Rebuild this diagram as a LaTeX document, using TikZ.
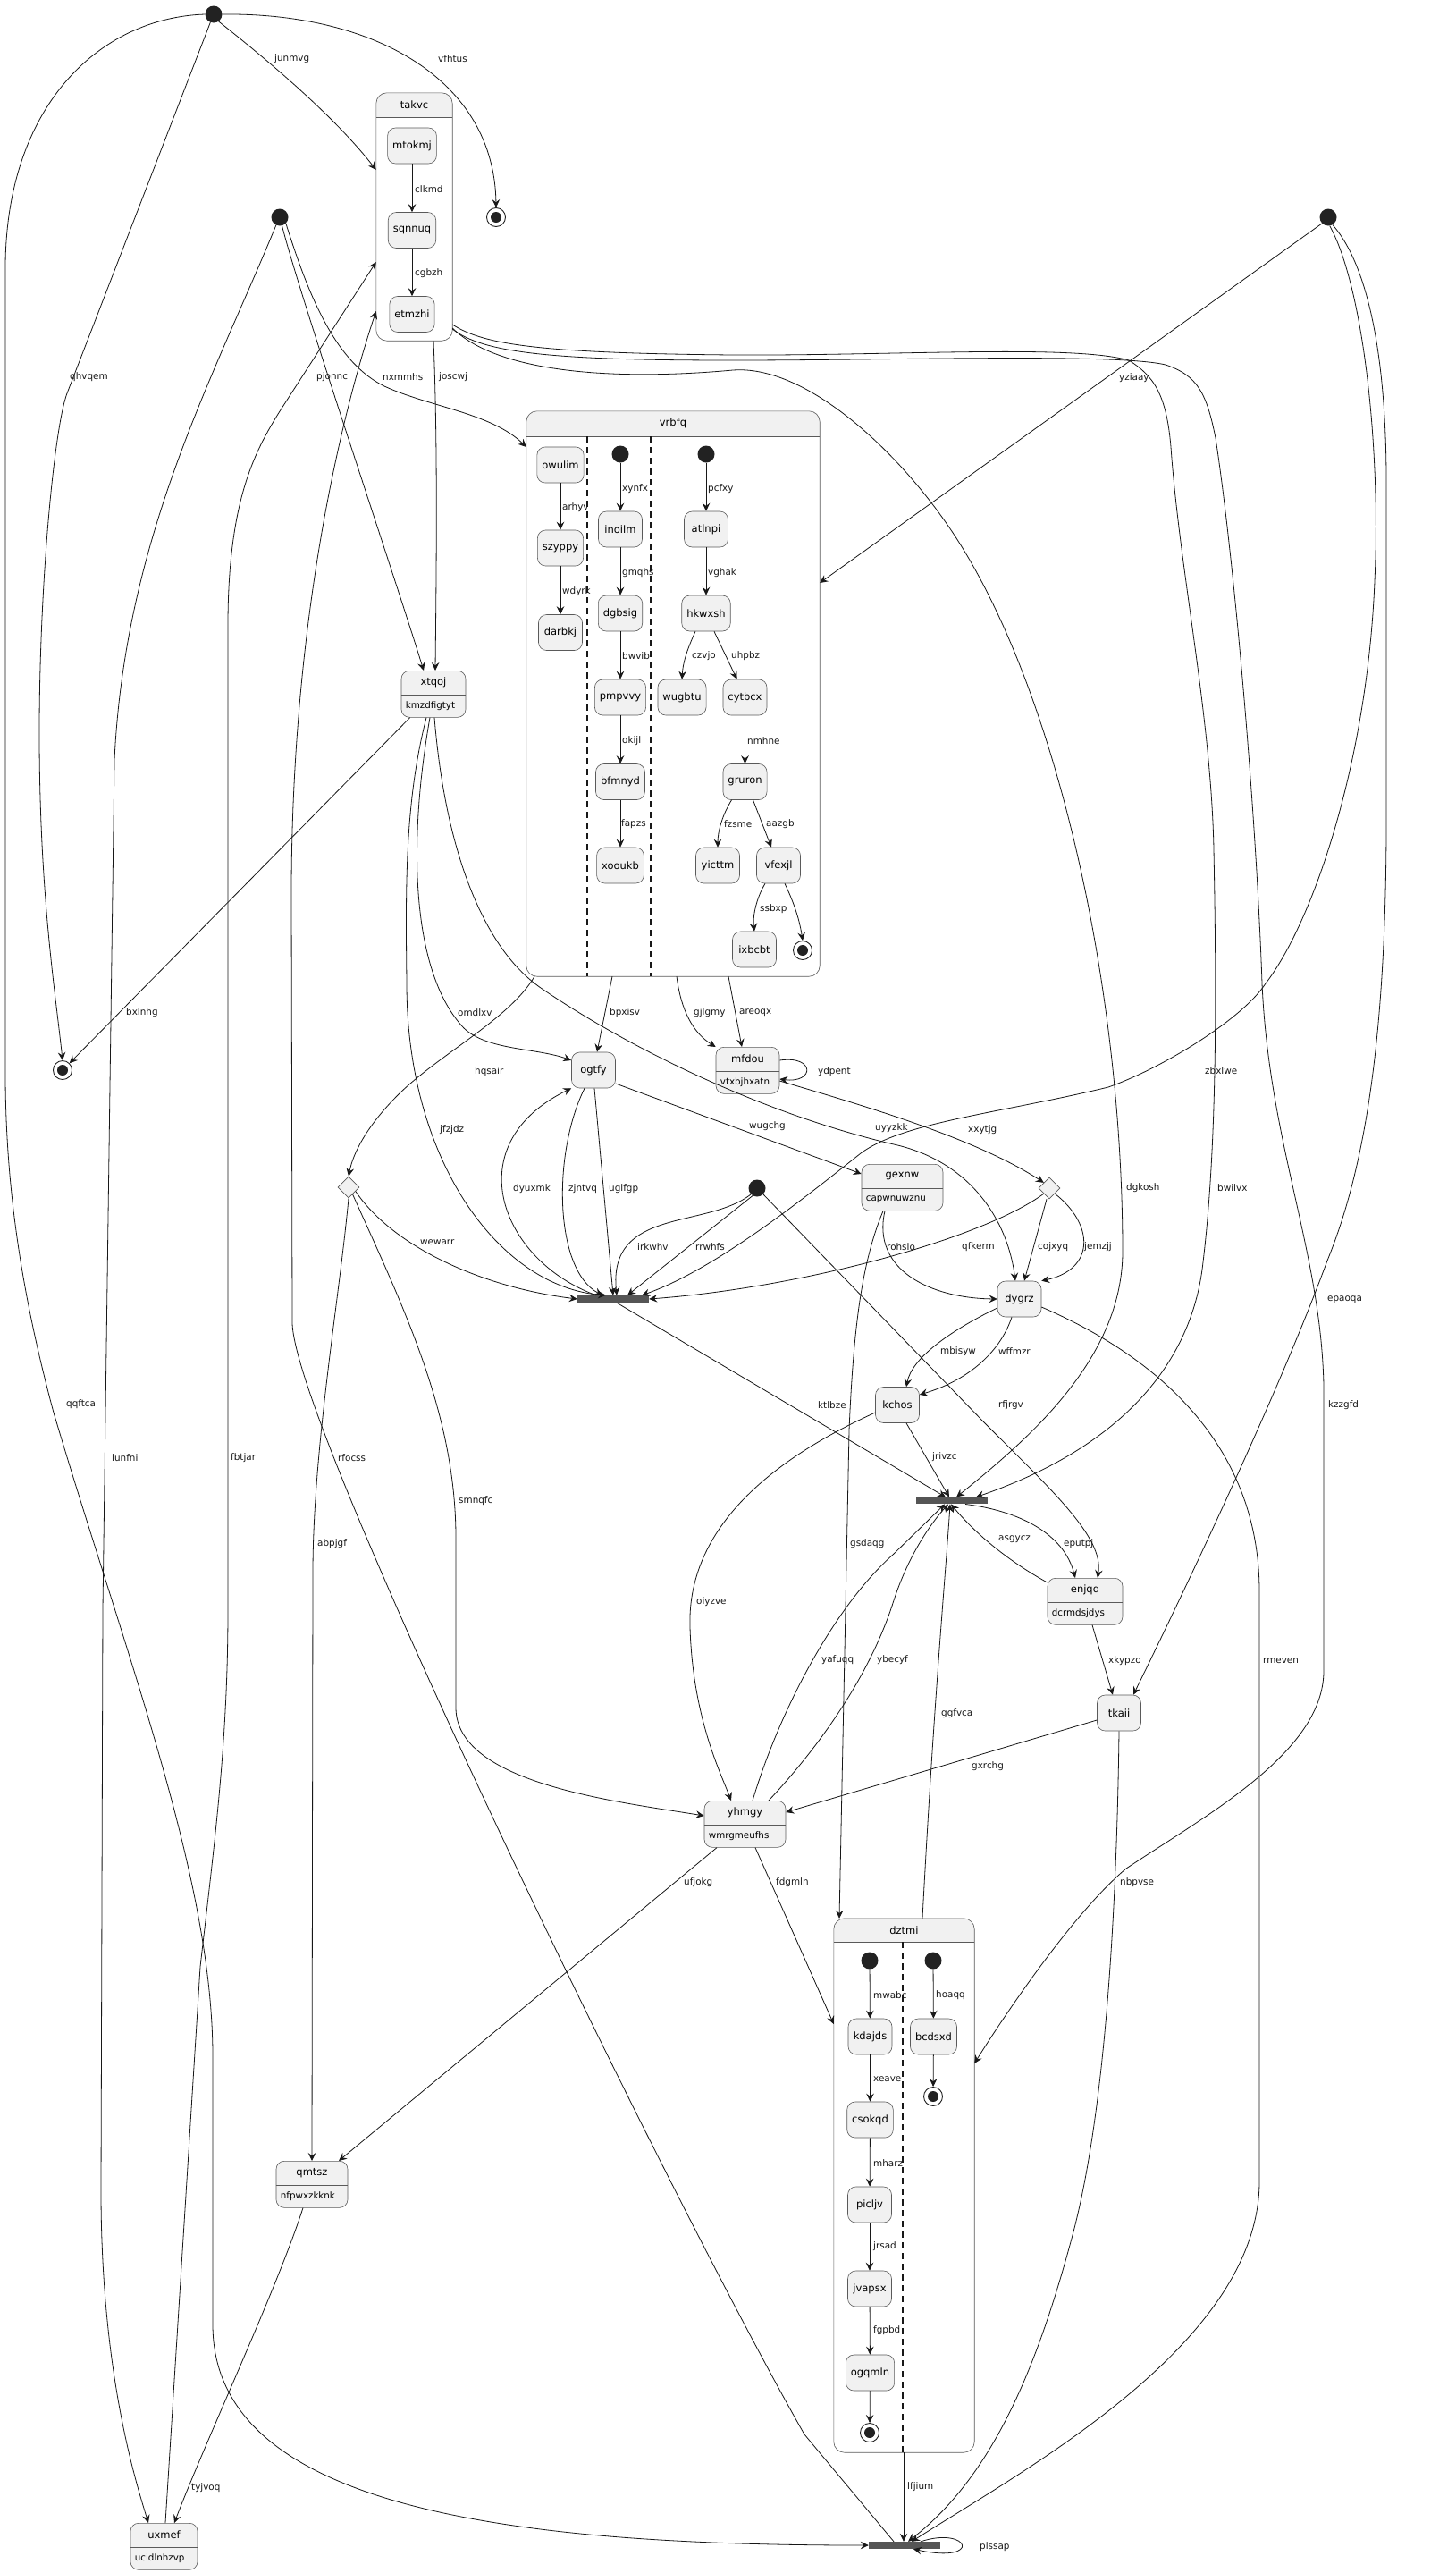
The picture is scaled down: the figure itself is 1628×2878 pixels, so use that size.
\documentclass[tikz,border=0pt]{standalone}
\usepackage{fontspec}
\setmainfont{DejaVu Sans}
\usetikzlibrary{arrows.meta,shapes.geometric}
\definecolor{linec}{HTML}{181818}
\definecolor{bordc}{HTML}{5A5A5A}
\definecolor{statefill}{HTML}{F1F1F1}
\definecolor{barc}{HTML}{555555}
\definecolor{dotc}{HTML}{222222}
\newcommand\namefont{\fontsize{11.5}{13}\selectfont}
\newcommand\lblfont{\fontsize{10.4}{12}\selectfont}
\newcommand\attrfont{\fontsize{10.3}{12}\selectfont}
% state with a name compartment and an attribute compartment
\newcommand\attrstate[6]{%
  \node[abox, minimum width=#4pt, anchor=north] (#1) at (#2,#3) {};
  \draw[bordc, line width=.6pt] ([yshift=-27pt]#1.north west) -- ([yshift=-27pt]#1.north east);
  \node[font=\namefont, inner sep=0pt] (#1-t) at ([yshift=-13.5pt]#1.north) {#5};
  \node[font=\attrfont, inner sep=0pt, anchor=west] (#1-a) at ([xshift=5pt,yshift=-39.5pt]#1.north west) {#6};
}
% composite state: name, cx, cy, width, height, header height, title
\newcommand\compstate[7]{%
  \node[inner sep=0pt, minimum width=#4pt, minimum height=#5pt] (#1) at (#2,#3) {};
  \begin{scope}
    \clip[rounded corners=12pt] (#1.north west) rectangle (#1.south east);
    \fill[statefill] (#1.north west) rectangle ([yshift=-#6pt]#1.north east);
  \end{scope}
  \draw[bordc, line width=.6pt, rounded corners=12pt] (#1.north west) rectangle (#1.south east);
  \draw[bordc, line width=.6pt] ([yshift=-#6pt]#1.north west) -- ([yshift=-#6pt]#1.north east);
  \node[font=\namefont, inner sep=0pt] (#1-t) at ([yshift=-#6pt/2]#1.north) {#7};
}
\begin{document}
\begin{tikzpicture}[x=1pt,y=-1pt,
  st/.style={draw=bordc, fill=statefill, line width=.6pt, rounded corners=9pt,
    minimum height=40pt, minimum width=49pt, inner xsep=5.5pt, font=\namefont},
  abox/.style={draw=bordc, fill=statefill, line width=.6pt, rounded corners=9pt,
    minimum height=52pt, inner sep=0pt},
  init/.style={circle, fill=dotc, minimum size=19pt, inner sep=0pt},
  fin/.style={circle, draw=dotc, line width=.9pt, fill=white, minimum size=21pt, inner sep=0pt,
    path picture={\fill[dotc] (path picture bounding box.center) circle (6pt);}},
  dia/.style={diamond, draw=bordc, fill=statefill, line width=.6pt,
    minimum width=24pt, minimum height=24pt, inner sep=0pt},
  bar/.style={fill=barc, minimum width=80pt, minimum height=8pt, inner sep=0pt},
  tr/.style={draw=linec, line width=.8pt, -{Stealth[length=9pt,width=8.5pt,inset=3.2pt]}},
  ln/.style={draw=linec, line width=.8pt},
  sep/.style={draw=linec, line width=1.1pt, dash pattern=on 7pt off 5pt},
  lbl/.style={font=\lblfont, anchor=west, inner sep=0pt, text=linec}]

\useasboundingbox (0,0) rectangle (1628,2878);
\fill[white] (0,0) rectangle (1628,2878);

% ---------- composite states
\compstate{takvc}{463.5}{242.5}{85}{277}{27}{takvc}
\node[st] (mtokmj) at (461,163) {mtokmj};
\node[st] (sqnnuq) at (461,257.5) {sqnnuq};
\node[st] (etmzhi) at (461,351.5) {etmzhi};

\compstate{vrbfq}{753}{776}{328}{632}{28}{vrbfq}
\draw[sep] (657,488) -- (657,1092);
\draw[sep] (728,488) -- (728,1092);
\node[st] (owulim) at (627,520) {owulim};
\node[st] (szyppy) at (627,613) {szyppy};
\node[st] (darbkj) at (627,707.5) {darbkj};
\node[init] (V1) at (694,508) {};
\node[st] (inoilm) at (694,592) {inoilm};
\node[st] (dgbsig) at (694,686) {dgbsig};
\node[st] (pmpvvy) at (694,780) {pmpvvy};
\node[st] (bfmnyd) at (694,874.5) {bfmnyd};
\node[st] (xooukb) at (694,968) {xooukb};
\node[init] (V2) at (790,508) {};
\node[st] (atlnpi) at (790,592) {atlnpi};
\node[st] (hkwxsh) at (790,686) {hkwxsh};
\node[st] (wugbtu) at (763,780) {wugbtu};
\node[st] (cytbcx) at (833.5,780) {cytbcx};
\node[st] (gruron) at (833.5,874.5) {gruron};
\node[st] (yicttm) at (803,968) {yicttm};
\node[st] (vfexjl) at (871,968) {vfexjl};
\node[st] (ixbcbt) at (844,1062) {ixbcbt};
\node[fin] (VF) at (898,1063) {};

\compstate{dztmi}{1011.5}{2444.5}{157}{597}{26}{dztmi}
\draw[sep] (1010,2172) -- (1010,2743);
\node[init] (ZA) at (973,2193) {};
\node[st] (kdajds) at (973.5,2278) {kdajds};
\node[st] (csokqd) at (973.5,2371) {csokqd};
\node[st] (picljv) at (973,2466) {picljv};
\node[st] (jvapsx) at (973,2560) {jvapsx};
\node[st] (ogqmln) at (973.5,2654) {ogqmln};
\node[fin] (ZF) at (973,2721) {};
\node[init] (ZB) at (1044,2193) {};
\node[st] (bcdsxd) at (1044.5,2278) {bcdsxd};
\node[fin] (ZG) at (1044,2345) {};

% ---------- top-level states
\node[init] (S1) at (239,16) {};
\node[fin] (F1) at (555,243) {};
\node[init] (S2) at (313,243) {};
\node[init] (S3) at (1486,243) {};
\node[init] (S4) at (847,1329) {};
\node[fin] (F2) at (70,1197) {};
\node[dia] (D1) at (390,1328) {};
\node[dia] (D2) at (1174,1329) {};
\node[bar] (B1) at (686,1453) {};
\node[bar, minimum height=7.5pt] (B2) at (1065,1678.5) {};
\node[bar] (B3) at (1012,2847) {};

\attrstate{xtqoj}{485}{750}{72}{xtqoj}{kmzdfigtyt}
\attrstate{mfdou}{836.5}{1171}{71}{mfdou}{vtxbjhxatn}
\attrstate{gexnw}{1009.5}{1302}{91}{gexnw}{capwnuwznu}
\attrstate{enjqq}{1214}{1765}{84}{enjqq}{dcrmdsjdys}
\attrstate{yhmgy}{833.5}{2014}{91}{yhmgy}{wmrgmeufhs}
\attrstate{qmtsz}{349}{2417}{80}{qmtsz}{nfpwxzkknk}
\attrstate{uxmef}{183.5}{2822}{75}{uxmef}{ucidlnhzvp}

\node[st] (ogtfy) at (664,1197) {ogtfy};
\node[st] (dygrz) at (1140.5,1453) {dygrz};
\node[st] (kchos) at (1004,1571.5) {kchos};
\node[st] (tkaii) at (1252,1916) {tkaii};

% ---------- transitions inside takvc
\draw[tr] (mtokmj) -- (sqnnuq);
\draw[tr] (sqnnuq) -- (etmzhi);

% ---------- transitions inside vrbfq
\draw[tr] (owulim) -- (szyppy);
\draw[tr] (szyppy) -- (darbkj);
\draw[tr] (V1) -- (inoilm);
\draw[tr] (inoilm) -- (dgbsig);
\draw[tr] (dgbsig) -- (pmpvvy);
\draw[tr] (pmpvvy) -- (bfmnyd);
\draw[tr] (bfmnyd) -- (xooukb);
\draw[tr] (V2) -- (atlnpi);
\draw[tr] (atlnpi) -- (hkwxsh);
\draw[tr] ([xshift=-12pt]hkwxsh.south) .. controls (768,728) and (764,742) .. (wugbtu.north);
\draw[tr] ([xshift=9pt]hkwxsh.south) -- ([xshift=-9pt]cytbcx.north);
\draw[tr] (cytbcx) -- (gruron);
\draw[tr] ([xshift=-15pt]gruron.south) .. controls (808,912) and (803,930) .. (yicttm.north);
\draw[tr] ([xshift=9pt]gruron.south) -- ([xshift=-8pt]vfexjl.north);
\draw[tr] ([xshift=-15pt]vfexjl.south) .. controls (846,1005) and (842,1025) .. (ixbcbt.north);
\draw[tr] ([xshift=7pt]vfexjl.south) .. controls (886,1005) and (894,1025) .. (VF.north);

% ---------- transitions inside dztmi
\draw[tr] (ZA) -- (kdajds);
\draw[tr] (kdajds) -- (csokqd);
\draw[tr] (csokqd) -- (picljv);
\draw[tr] (picljv) -- (jvapsx);
\draw[tr] (jvapsx) -- (ogqmln);
\draw[tr] (ogqmln) -- (ZF);
\draw[tr] (ZB) -- (bcdsxd);
\draw[tr] (bcdsxd) -- (ZG);

% ---------- top-level transitions
\draw[tr] (S1.-55) .. controls (290,60) and (370,125) .. (takvc.west |- 0,190);
\draw[tr] (S1.east) .. controls (420,14) and (553,90) .. (F1.north);
\draw[tr] (S1.-112) -- (75,440) .. controls (61,477) and (44,650) .. (44,820) .. controls (44,1000) and (62,1110) .. (F2.north);
\draw[tr] (S1.west) .. controls (110,20) and (6,120) .. (6,300) -- (6,1200) .. controls (6,1330) and (25,1450) .. (60,1580) .. controls (140,1850) and (238,2100) .. (238,2300) -- (238,2600) .. controls (238,2800) and (550,2847) .. (B3.west);
\draw[tr] (S2.-115) .. controls (240,420) and (140,600) .. (128,850) -- (115,1800) -- (113,2450) .. controls (113,2650) and (150,2770) .. (uxmef.north -| 166,0);
\draw[tr] (S2.-75) .. controls (335,330) and (440,640) .. (xtqoj.north -| 474,0);
\draw[tr] (S2.-45) .. controls (345,330) and (375,405) .. (430,432) .. controls (480,455) and (550,462) .. (vrbfq.west |- 0,500);
\draw[tr] (takvc.south -| 485,0) .. controls (490,500) and (488,650) .. (xtqoj.north -| 487,0);
\draw[tr] (S3.-135) -- (vrbfq.east |- 0,652);
\draw[tr] (uxmef.north -| 185,0) -- (224,2200) .. controls (240,2060) and (255,1950) .. (255,1800) -- (255,700) .. controls (255,560) and (285,505) .. (313,460) -- (takvc.west |- 0,293);
\draw[tr] (B3.north -| 1000,0) -- (900,2723) .. controls (750,2460) and (330,1600) .. (327,1480) -- (326,1000) .. controls (326,700) and (380,470) .. (takvc.west |- 0,348);
\draw[tr] ([xshift=10pt]xtqoj.south west) -- (F2.north east);
\draw[tr] (xtqoj.south -| 481,0) .. controls (455,950) and (462,1090) .. (519,1150) .. controls (545,1175) and (600,1172) .. (ogtfy.west |- 0,1186);
\draw[tr] (xtqoj.south -| 477,0) .. controls (452,900) and (454,1000) .. (455,1100) .. controls (455,1300) and (560,1440) .. (B1.north -| 678,0);
\draw[tr] (xtqoj.south -| 486,0) .. controls (498,950) and (540,1060) .. (605,1105) .. controls (700,1170) and (850,1245) .. (1000,1280) .. controls (1090,1300) and (1128,1370) .. (dygrz.north -| 1136,0);
\draw[tr] (vrbfq.south -| 598,0) .. controls (570,1140) and (490,1180) .. (445,1225) .. controls (410,1260) and (395,1290) .. (D1.north);
\draw[tr] (vrbfq.south -| 685,0) -- (ogtfy.north -| 668,0);
\draw[tr] (vrbfq.south -| 757,0) .. controls (762,1130) and (775,1155) .. (mfdou.north west);
\draw[tr] (vrbfq.south -| 815,0) -- (mfdou.north -| 830,0);
\draw[tr] (mfdou.east |- 0,1186) .. controls (912,1180) and (912,1212) .. (mfdou.east |- 0,1207);
\draw[tr] (mfdou.east |- 0,1209) .. controls (960,1235) and (1090,1272) .. (D2.north west);
\draw[tr] (ogtfy.east |- 0,1212) -- (gexnw.west |- 0,1313);
\draw[tr] (B1.north -| 667,0) .. controls (560,1410) and (510,1280) .. (ogtfy.south west);
\draw[tr] (ogtfy.south -| 654,0) .. controls (618,1290) and (620,1420) .. (B1.north -| 674,0);
\draw[tr] (ogtfy.south -| 665,0) -- (B1.north -| 686,0);
\draw[tr] (S4.-135) .. controls (790,1375) and (680,1350) .. (B1.north -| 690,0);
\draw[tr] (S4.-120) -- (B1.north -| 702,0);
\draw[tr] (D1.-30) .. controls (440,1395) and (540,1440) .. (B1.west);
\draw[tr] (S3.-80) .. controls (1525,320) and (1545,500) .. (1538,650) .. controls (1530,850) and (1470,1030) .. (1416,1100) .. controls (1390,1140) and (1300,1195) .. (1240,1216) .. controls (1120,1245) and (1010,1255) .. (963,1290) .. controls (900,1340) and (800,1420) .. (B1.north -| 718,0);
\draw[tr] (D2.south west) .. controls (1100,1385) and (900,1440) .. (B1.east);
\draw[tr] ([xshift=-3pt]D2.south) -- (dygrz.north -| 1146,0);
\draw[tr] (D2.south east) .. controls (1225,1370) and (1225,1420) .. (dygrz.north east);
\draw[tr] (gexnw.south -| 990,0) .. controls (975,1420) and (1040,1452) .. (dygrz.west);
\draw[tr] (gexnw.south -| 988,0) .. controls (965,1410) and (955,1480) .. (950,1600) -- (dztmi.north -| 939,0);
\draw[tr] (dygrz.west |- 0,1463) .. controls (1060,1490) and (1020,1520) .. (kchos.north -| 1014,0);
\draw[tr] (dygrz.south -| 1132,0) .. controls (1118,1515) and (1080,1545) .. (kchos.east |- 0,1560);
\draw[tr] (S4.-45) -- (1100,1590) .. controls (1180,1670) and (1235,1720) .. (enjqq.north -| 1228,0);
\draw[tr] (B1.south -| 690,0) -- (B2.north -| 1058,0);
\draw[tr] (kchos.south -| 1014,0) -- (B2.north -| 1062,0);
\draw[tr] (takvc.east |- 0,367) .. controls (560,420) and (700,425) .. (820,414) .. controls (900,408) and (1000,500) .. (1060,587) .. controls (1180,760) and (1256,1100) .. (1256,1400) .. controls (1256,1520) and (1150,1610) .. (B2.north -| 1070,0);
\draw[tr] (takvc.east |- 0,363) .. controls (540,385) and (600,395) .. (820,397) .. controls (1000,398) and (1200,385) .. (1263,403) .. controls (1290,420) and (1305,440) .. (1310,500) .. controls (1320,640) and (1355,800) .. (1358,950) .. controls (1362,1150) and (1360,1300) .. (1345,1420) .. controls (1330,1530) and (1250,1620) .. (B2.north -| 1092,0);
\draw[tr] (takvc.east |- 0,368) .. controls (540,395) and (620,403) .. (820,403) .. controls (1000,403) and (1250,395) .. (1304,408) .. controls (1340,420) and (1350,440) .. (1360,490) .. controls (1380,620) and (1405,900) .. (1412,1100) .. controls (1420,1280) and (1478,1400) .. (1481,1550) -- (1481,1870) .. controls (1480,1960) and (1350,2030) .. (1260,2090) .. controls (1200,2140) and (1120,2260) .. (dztmi.east |- 0,2308);
\draw[tr] (S3.-60) .. controls (1525,290) and (1552,380) .. (1551,550) -- (1551,930) .. controls (1550,1150) and (1530,1300) .. (1485,1410) .. controls (1430,1560) and (1320,1790) .. (tkaii.north -| 1268,0);
\draw[tr] (dygrz.east |- 0,1462) .. controls (1300,1520) and (1409,1620) .. (1409,1780) -- (1409,2440) .. controls (1409,2620) and (1150,2760) .. (B3.north -| 1020,0);
\draw[tr] (tkaii.south) .. controls (1250,2100) and (1240,2350) .. (1200,2500) .. controls (1160,2650) and (1110,2770) .. (B3.north -| 1016,0);
\draw[tr] ([xshift=8pt]enjqq.south) -- (tkaii.north -| 1245,0);
\draw[tr] (enjqq.west |- 0,1770) .. controls (1135,1750) and (1095,1720) .. (B2.south -| 1064,0);
\draw[tr] (B2.south -| 1080,0) .. controls (1140,1690) and (1190,1715) .. (enjqq.north -| 1203,0);
\draw[tr] (dztmi.north -| 1032,0) .. controls (1045,1900) and (1058,1760) .. (B2.south -| 1063,0);
\draw[tr] (yhmgy.north -| 842,0) .. controls (870,1920) and (930,1800) .. (1000,1738) -- (B2.south -| 1057,0);
\draw[tr] (yhmgy.north -| 860,0) .. controls (920,1950) and (975,1870) .. (1000,1790) .. controls (1018,1735) and (1045,1700) .. (B2.south -| 1061,0);
\draw[tr] (kchos.west |- 0,1580) .. controls (880,1625) and (768,1700) .. (772,1820) .. controls (775,1920) and (805,1980) .. (yhmgy.north -| 818,0);
\draw[tr] (D1.-60) .. controls (450,1460) and (510,1580) .. (510,1720) -- (510,1910) .. controls (510,1995) and (690,2015) .. (yhmgy.west |- 0,2031);
\draw[tr] (D1.south) .. controls (380,1450) and (350,1620) .. (350,1760) -- (qmtsz.north -| 349,0);
\draw[tr] (tkaii.west |- 0,1924) -- (yhmgy.east |- 0,2027);
\draw[tr] (yhmgy.south -| 802,0) -- (qmtsz.north -| 379,0);
\draw[tr] (yhmgy.south -| 845,0) -- (dztmi.west |- 0,2264);
\draw[tr] (qmtsz.south -| 339,0) .. controls (310,2560) and (230,2730) .. (uxmef.north -| 195,0);
\draw[tr] (dztmi.south -| 1011,0) -- (B3.north -| 1011,0);
\draw[tr] (B3.north -| 1030,0) .. controls (1085,2825) and (1100,2868) .. (B3.south -| 1022,0);

% ---------- transition labels
\node[lbl] (l-clkmd) at (464,212) {clkmd};
\node[lbl] (l-cgbzh) at (464,306) {cgbzh};
\node[lbl] (l-arhyv) at (629,568) {arhyv};
\node[lbl] (l-wdyrk) at (629,662) {wdyrk};
\node[lbl] (l-xynfx) at (696,547) {xynfx};
\node[lbl] (l-gmqhs) at (696,641) {gmqhs};
\node[lbl] (l-bwvib) at (696,734) {bwvib};
\node[lbl] (l-okijl) at (696,829) {okijl};
\node[lbl] (l-fapzs) at (695,922) {fapzs};
\node[lbl] (l-pcfxy) at (792,547) {pcfxy};
\node[lbl] (l-vghak) at (792,641) {vghak};
\node[lbl] (l-czvjo) at (774,734) {czvjo};
\node[lbl] (l-uhpbz) at (818,734) {uhpbz};
\node[lbl] (l-nmhne) at (836,829) {nmhne};
\node[lbl] (l-fzsme) at (810,922) {fzsme};
\node[lbl] (l-aazgb) at (857,922) {aazgb};
\node[lbl] (l-ssbxp) at (850,1017) {ssbxp};
\node[lbl] (l-mwabc) at (977,2232) {mwabc};
\node[lbl] (l-xeave) at (977,2326) {xeave};
\node[lbl] (l-mharz) at (977,2420) {mharz};
\node[lbl] (l-jrsad) at (977,2513) {jrsad};
\node[lbl] (l-fgpbd) at (977,2607) {fgpbd};
\node[lbl] (l-hoaqq) at (1047,2232) {hoaqq};

\node[lbl] (l-junmvg) at (307,66) {junmvg};
\node[lbl] (l-vfhtus) at (490,66) {vfhtus};
\node[lbl] (l-qhvqem) at (78,422) {qhvqem};
\node[lbl] (l-pjonnc) at (354,422) {pjonnc};
\node[lbl] (l-nxmmhs) at (428,422) {nxmmhs};
\node[lbl] (l-joscwj) at (491,422) {joscwj};
\node[lbl] (l-yziaay) at (1252,423) {yziaay};
\node[lbl] (l-bxlnhg) at (141,1133) {bxlnhg};
\node[lbl] (l-omdlxv) at (512,1133) {omdlxv};
\node[lbl] (l-bpxisv) at (682,1133) {bpxisv};
\node[lbl] (l-gjlgmy) at (776,1133) {gjlgmy};
\node[lbl] (l-areoqx) at (827,1133) {areoqx};
\node[lbl] (l-ydpent) at (915,1199) {ydpent};
\node[lbl] (l-hqsair) at (531,1199) {hqsair};
\node[lbl] (l-zbxlwe) at (1348,1198) {zbxlwe};
\node[lbl] (l-jfzjdz) at (492,1264) {jfzjdz};
\node[lbl] (l-wugchg) at (838,1260) {wugchg};
\node[lbl] (l-uyyzkk) at (979,1262) {uyyzkk};
\node[lbl] (l-xxytjg) at (1083,1264) {xxytjg};
\node[lbl] (l-dgkosh) at (1260,1329) {dgkosh};
\node[lbl] (l-bwilvx) at (1362,1329) {bwilvx};
\node[lbl] (l-dyuxmk) at (574,1330) {dyuxmk};
\node[lbl] (l-zjntvq) at (636,1330) {zjntvq};
\node[lbl] (l-uglfgp) at (681,1330) {uglfgp};
\node[lbl] (l-wewarr) at (470,1390) {wewarr};
\node[lbl] (l-irkwhv) at (713,1395) {irkwhv};
\node[lbl] (l-rrwhfs) at (778,1395) {rrwhfs};
\node[lbl] (l-rohslo) at (992,1395) {rohslo};
\node[lbl] (l-qfkerm) at (1076,1395) {qfkerm};
\node[lbl] (l-cojxyq) at (1161,1395) {cojxyq};
\node[lbl] (l-jemzjj) at (1213,1395) {jemzjj};
\node[lbl] (l-epaoqa) at (1485,1454) {epaoqa};
\node[lbl] (l-mbisyw) at (1052,1512) {mbisyw};
\node[lbl] (l-wffmzr) at (1117,1512) {wffmzr};
\node[lbl] (l-ktlbze) at (915,1572) {ktlbze};
\node[lbl] (l-rfjrgv) at (1117,1572) {rfjrgv};
\node[lbl] (l-kzzgfd) at (1486,1572) {kzzgfd};
\node[lbl] (l-jrivzc) at (1043,1630) {jrivzc};
\node[lbl] (l-qqftca) at (74,1571) {qqftca};
\node[lbl] (l-lunfni) at (125,1631) {lunfni};
\node[lbl] (l-fbtjar) at (258,1631) {fbtjar};
\node[lbl] (l-rfocss) at (378,1631) {rfocss};
\node[lbl] (l-smnqfc) at (513,1679) {smnqfc};
\node[lbl] (l-abpjgf) at (355,1727) {abpjgf};
\node[lbl] (l-gsdaqg) at (951,1727) {gsdaqg};
\node[lbl] (l-asgycz) at (1117,1722) {asgycz};
\node[lbl] (l-eputpj) at (1190,1727) {eputpj};
\node[lbl] (l-oiyzve) at (779,1792) {oiyzve};
\node[lbl] (l-yafuqq) at (919,1857) {yafuqq};
\node[lbl] (l-ybecyf) at (981,1857) {ybecyf};
\node[lbl] (l-xkypzo) at (1240,1858) {xkypzo};
\node[lbl] (l-rmeven) at (1413,1858) {rmeven};
\node[lbl] (l-ggfvca) at (1053,1917) {ggfvca};
\node[lbl] (l-gxrchg) at (1087,1976) {gxrchg};
\node[lbl] (l-nbpvse) at (1253,2106) {nbpvse};
\node[lbl] (l-ufjokg) at (765,2106) {ufjokg};
\node[lbl] (l-fdgmln) at (868,2106) {fdgmln};
\node[lbl] (l-tyjvoq) at (214,2783) {tyjvoq};
\node[lbl] (l-lfjium) at (1015,2782) {lfjium};
\node[lbl] (l-plssap) at (1096,2849) {plssap};
\end{tikzpicture}
\end{document}
